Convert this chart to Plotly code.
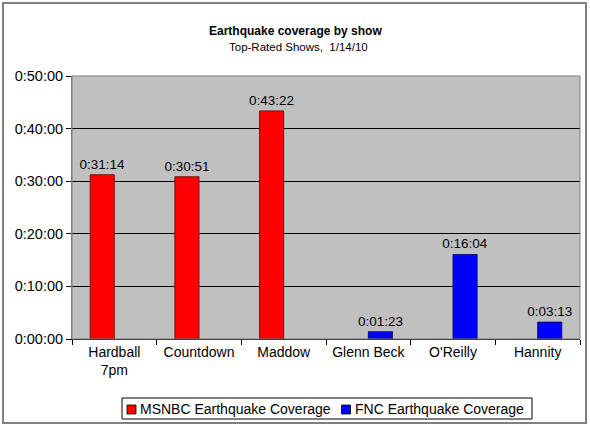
import plotly.graph_objects as go

shows = ["Hardball<br>7pm", "Countdown", "Maddow", "Glenn Beck", "O'Reilly", "Hannity"]
msnbc_sec = [1874, 1851, 2602, None, None, None]
fnc_sec = [None, None, None, 83, 964, 193]
msnbc_lbl = ["0:31:14", "0:30:51", "0:43:22", "", "", ""]
fnc_lbl = ["", "", "", "0:01:23", "0:16:04", "0:03:13"]
ytick_vals = [0, 600, 1200, 1800, 2400, 3000]
ytick_text = ["0:00:00", "0:10:00", "0:20:00", "0:30:00", "0:40:00", "0:50:00"]
series_names = ["MSNBC Earthquake Coverage", "FNC Earthquake Coverage"]
series_colors = ["#ff0000", "#0000ff"]
series_edges = ["#600000", "#000060"]

W, H = 590, 426
ML, MR, MT, MB = 72, 10, 76, 87
FONT = "Liberation Sans, Arial, sans-serif"

fig = go.Figure()
for vals, lbls, name, col, edge in [(msnbc_sec, msnbc_lbl, series_names[0], series_colors[0], series_edges[0]),
                                    (fnc_sec, fnc_lbl, series_names[1], series_colors[1], series_edges[1])]:
    fig.add_trace(go.Bar(x=shows, y=vals, name=name,
                         text=lbls, textposition="outside", constraintext="none",
                         marker=dict(color=col, line=dict(color=edge, width=0.8)),
                         textfont=dict(size=13.5, color="#000", family=FONT), cliponaxis=False,
                         hoverinfo="skip"))

pw = W - ML - MR
ph = H - MT - MB
def px(x): return (x - ML) / pw
def py(y): return (H - MB - y) / ph

annotations = [
    dict(text="<b>Earthquake coverage by show</b>", xref="paper", yref="paper",
         x=px(295), y=py(31), xanchor="center", yanchor="middle", showarrow=False,
         font=dict(size=12, family=FONT)),
    dict(text="Top-Rated Shows,  1/14/10", xref="paper", yref="paper",
         x=px(298), y=py(47), xanchor="center", yanchor="middle", showarrow=False,
         font=dict(size=11.5, family=FONT)),
]
shapes = [
    dict(type="rect", xref="paper", yref="paper", x0=px(3), x1=px(586), y0=py(3), y1=py(423),
         line=dict(color="#808080", width=2), fillcolor="rgba(0,0,0,0)", layer="below"),
    dict(type="rect", xref="paper", yref="paper", x0=0, x1=1, y0=0, y1=1,
         line=dict(color="#808080", width=1), fillcolor="rgba(0,0,0,0)", layer="above"),
    # legend box
    dict(type="rect", xref="paper", yref="paper", x0=px(122), x1=px(532), y0=py(398), y1=py(419),
         line=dict(color="#000", width=1), fillcolor="white", layer="below"),
]
leg_x = [127, 341.5]
for i in range(2):
    shapes.append(dict(type="rect", xref="paper", yref="paper",
                       x0=px(leg_x[i]), x1=px(leg_x[i] + 9), y0=py(405), y1=py(414),
                       line=dict(color="#000", width=0.8), fillcolor=series_colors[i], layer="above"))
    annotations.append(dict(text=series_names[i], xref="paper", yref="paper",
                            x=px(leg_x[i] + 11), y=py(409), xanchor="left", yanchor="middle",
                            showarrow=False, font=dict(size=14, family=FONT)))

fig.update_layout(
    width=W, height=H,
    margin=dict(l=ML, r=MR, t=MT, b=MB),
    paper_bgcolor="white", plot_bgcolor="#c0c0c0",
    font=dict(family=FONT, size=14, color="#000"),
    barmode="group", bargap=0.43, bargroupgap=0,
    showlegend=False,
    xaxis=dict(type="category", showgrid=False, ticks="outside", tickson="boundaries",
               ticklen=5, tickcolor="#000", showline=True, linecolor="#000", linewidth=1,
               tickfont=dict(size=14, family=FONT)),
    yaxis=dict(range=[0, 3000], tickvals=ytick_vals, ticktext=ytick_text,
               showgrid=True, gridcolor="#000", gridwidth=1, zeroline=False,
               ticks="outside", ticklen=5, tickcolor="#000",
               showline=True, linecolor="#808080", linewidth=1,
               tickfont=dict(size=14.5, family=FONT)),
    annotations=annotations,
    shapes=shapes,
)

fig.write_html("out.html")
